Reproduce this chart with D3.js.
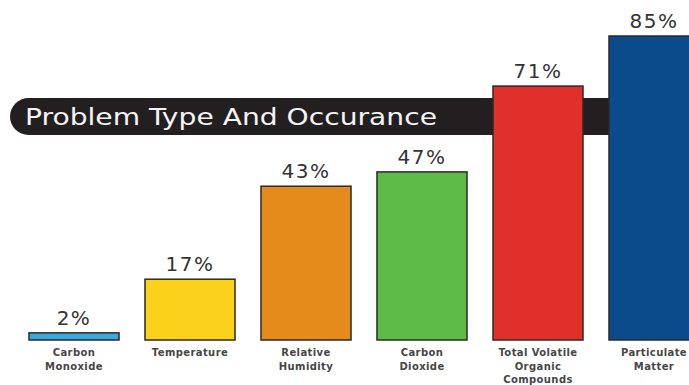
<!DOCTYPE html>
<html>
<head>
<meta charset="utf-8">
<script src="https://cdn.jsdelivr.net/npm/d3@7"></script>
<style>
  html, body { margin: 0; padding: 0; background: #fff; overflow: hidden; }
  svg { display: block; }
</style>
</head>
<body>
<svg id="chart" width="689" height="385"></svg>
<script>
// Problem categories (multi-line labels) and occurrence percentages
const categories = [
  ["Carbon", "Monoxide"],
  ["Temperature"],
  ["Relative", "Humidity"],
  ["Carbon", "Dioxide"],
  ["Total Volatile", "Organic", "Compounds"],
  ["Particulate", "Matter"]
];
const values = [2, 17, 43, 47, 71, 85];
const colors = ["#3aa7dd", "#fbd11c", "#e48b1c", "#5dbb46", "#e12f2a", "#0b4a8b"];
const title = "Problem Type And Occurance";

const svg = d3.select("#chart");
const baseline = 340;

const x = d3.scaleBand()
  .domain(d3.range(values.length))
  .range([16, 712])
  .paddingInner(0.224)
  .paddingOuter(0.112);

const y = d3.scaleLinear().domain([0, 85]).range([baseline, 36]);

// Title banner sits behind the bars
const banner = svg.append("g");
banner.append("rect")
  .attr("x", 10).attr("y", 98)
  .attr("width", 620).attr("height", 37)
  .attr("rx", 18.5).attr("ry", 18.5)
  .attr("fill", "#231f20");
banner.append("text")
  .attr("x", 25).attr("y", 124.5)
  .attr("fill", "#f4f4f4")
  .attr("font-family", "DejaVu Sans, sans-serif")
  .attr("font-size", 23)
  .attr("textLength", 412)
  .attr("lengthAdjust", "spacingAndGlyphs")
  .text(title);

// Bars
const idx = d3.range(values.length);
svg.append("g").selectAll("rect")
  .data(idx)
  .join("rect")
  .attr("x", i => x(i))
  .attr("y", i => y(values[i]))
  .attr("width", x.bandwidth())
  .attr("height", i => baseline - y(values[i]))
  .attr("fill", i => colors[i])
  .attr("stroke", "#2a2a2a")
  .attr("stroke-width", 1.5);

// Value labels above bars
svg.append("g").selectAll("text")
  .data(idx)
  .join("text")
  .attr("x", i => x(i) + x.bandwidth() / 2)
  .attr("y", i => y(values[i]) - 8)
  .attr("text-anchor", "middle")
  .attr("fill", "#333")
  .attr("font-family", "DejaVu Sans, sans-serif")
  .attr("font-size", 20)
  .attr("letter-spacing", 1.5)
  .text(i => values[i] + "%");

// Category labels under the baseline
const cat = svg.append("g").selectAll("text")
  .data(idx)
  .join("text")
  .attr("text-anchor", "middle")
  .attr("fill", "#474747")
  .attr("font-family", "DejaVu Sans, sans-serif")
  .attr("font-weight", "bold")
  .attr("font-size", 10)
  .attr("letter-spacing", 0.4);
cat.each(function(i) {
  const t = d3.select(this);
  categories[i].forEach((line, k) => {
    t.append("tspan")
      .attr("x", x(i) + x.bandwidth() / 2)
      .attr("y", 356 + k * 13.5)
      .text(line);
  });
});
</script>
</body>
</html>
